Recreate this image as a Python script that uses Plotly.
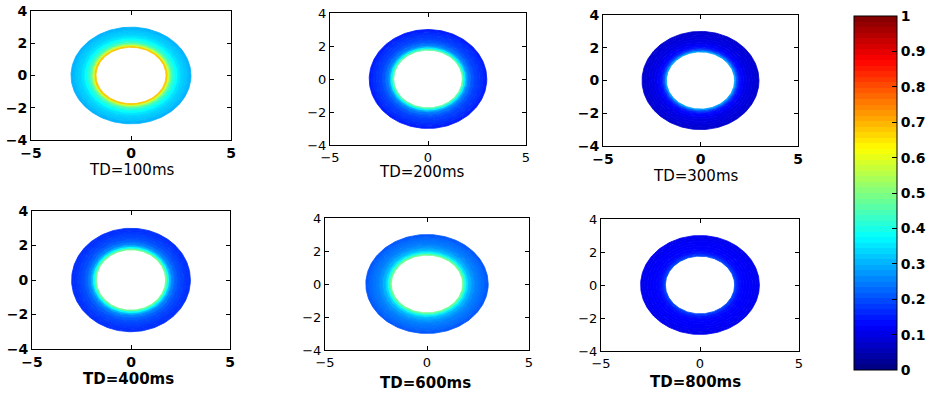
import numpy as np
import plotly.graph_objects as go

# Radial band edges of the annulus (same for every time step)
RADII = [1.75, 1.85, 1.95, 2.05, 2.2, 2.35, 2.5, 2.65, 2.8, 2.9, 3.0]

# Normalised value in each radial band, inner edge -> outer edge
TD_LABELS = ["TD=100ms", "TD=200ms", "TD=300ms", "TD=400ms", "TD=600ms", "TD=800ms"]
VAL_100 = [0.68, 0.57, 0.48, 0.42, 0.38, 0.35, 0.33, 0.32, 0.31, 0.30]
VAL_200 = [0.46, 0.36, 0.28, 0.24, 0.21, 0.19, 0.18, 0.17, 0.16, 0.15]
VAL_300 = [0.28, 0.20, 0.15, 0.13, 0.11, 0.10, 0.095, 0.09, 0.085, 0.08]
VAL_400 = [0.48, 0.38, 0.30, 0.25, 0.22, 0.20, 0.19, 0.18, 0.17, 0.17]
VAL_600 = [0.48, 0.40, 0.34, 0.30, 0.27, 0.25, 0.24, 0.23, 0.22, 0.21]
VAL_800 = [0.19, 0.16, 0.14, 0.13, 0.125, 0.12, 0.12, 0.115, 0.11, 0.11]
PANELS = [VAL_100, VAL_200, VAL_300, VAL_400, VAL_600, VAL_800]

X_TICKS = [-5, 0, 5]
Y_TICKS = [-4, -2, 0, 2, 4]
CB_TICKS = [0, 0.1, 0.2, 0.3, 0.4, 0.5, 0.6, 0.7, 0.8, 0.9, 1]
CB_TEXT = ["0", "0.1", "0.2", "0.3", "0.4", "0.5", "0.6", "0.7", "0.8", "0.9", "1"]

W, H = 932, 393
# axes boxes in pixels: (left, right, top, bottom)
BOXES = [(31, 231, 11, 140), (330, 526, 13, 145), (603, 798, 15, 146),
         (32, 230, 211, 349), (325, 529, 218, 350), (601, 799, 219, 351)]
TITLE_POS = [(132, 170), (422, 172), (696, 176), (128, 379), (425, 383), (695, 382)]
TICK_BOLD = [True, False, True, True, False, False]
TITLE_BOLD = [False, False, False, True, True, True]
FONT = "DejaVu Sans"


def jet(t):
    t = min(max(t, 0.0), 1.0)
    r = min(max(1.5 - abs(4 * t - 3), 0), 1)
    g = min(max(1.5 - abs(4 * t - 2), 0), 1)
    b = min(max(1.5 - abs(4 * t - 1), 0), 1)
    return f"rgb({round(r * 255)},{round(g * 255)},{round(b * 255)})"


# 64-step jet colour scale for the colour bar
N = 64
jet_scale = []
for i in range(N):
    c = jet((i + 0.5) / N)
    jet_scale.append([i / N, c])
    jet_scale.append([(i + 1) / N, c])

theta = np.linspace(0, 2 * np.pi, 241)

fig = go.Figure()
for k, vals in enumerate(PANELS):
    xa = "x" if k == 0 else f"x{k + 1}"
    ya = "y" if k == 0 else f"y{k + 1}"
    for i, v in enumerate(vals):
        r0, r1 = RADII[i], RADII[i + 1]
        xs = list(r1 * np.cos(theta)) + [None] + list(r0 * np.cos(theta[::-1]))
        ys = list(r1 * np.sin(theta)) + [None] + list(r0 * np.sin(theta[::-1]))
        col = jet(v)
        fig.add_trace(go.Scatter(
            x=xs, y=ys, xaxis=xa, yaxis=ya, mode="lines", fill="toself",
            fillcolor=col, line=dict(color=col, width=0.8),
            hoverinfo="skip", showlegend=False))

# colour bar
fig.add_trace(go.Scatter(
    x=[None, None], y=[None, None], mode="markers", showlegend=False,
    marker=dict(color=[0, 1], cmin=0, cmax=1, colorscale=jet_scale, showscale=True,
                colorbar=dict(
                    x=854 / W, xanchor="left", xpad=0,
                    y=1 - 193 / H, yanchor="middle", ypad=0,
                    thickness=43, thicknessmode="pixels",
                    len=354, lenmode="pixels",
                    outlinewidth=1, outlinecolor="black",
                    tickvals=CB_TICKS, ticktext=CB_TEXT,
                    ticks="inside", ticklen=5, tickcolor="black",
                    tickfont=dict(family=FONT, size=14, color="black", weight="bold"),
                ))))

layout = dict(width=W, height=H,
              margin=dict(l=0, r=0, t=0, b=0, pad=0, autoexpand=False),
              paper_bgcolor="white", plot_bgcolor="white", showlegend=False)
annotations = []
for k, (l, r, t, b) in enumerate(BOXES):
    sfx = "" if k == 0 else str(k + 1)
    tf = dict(family=FONT, size=14 if TICK_BOLD[k] else 13, color="black",
              weight="bold" if TICK_BOLD[k] else "normal")
    common = dict(showline=True, linecolor="black", linewidth=1, mirror="ticks",
                  ticks="inside", ticklen=4, tickcolor="black", showgrid=False,
                  zeroline=False, tickfont=tf, fixedrange=True, automargin=False)
    layout["xaxis" + sfx] = dict(domain=[l / W, r / W], range=[-5, 5],
                                 tickvals=X_TICKS, anchor="y" + sfx, **common)
    layout["yaxis" + sfx] = dict(domain=[1 - b / H, 1 - t / H], range=[-4, 4],
                                 tickvals=Y_TICKS, anchor="x" + sfx, **common)
    cx, cy = TITLE_POS[k]
    annotations.append(dict(
        text=TD_LABELS[k], x=cx / W, y=1 - cy / H, xref="paper", yref="paper",
        xanchor="center", yanchor="middle", showarrow=False,
        font=dict(family=FONT, size=15, color="black",
                  weight="bold" if TITLE_BOLD[k] else "normal")))
layout["annotations"] = annotations
fig.update_layout(**layout)

fig.write_html("out.html")
